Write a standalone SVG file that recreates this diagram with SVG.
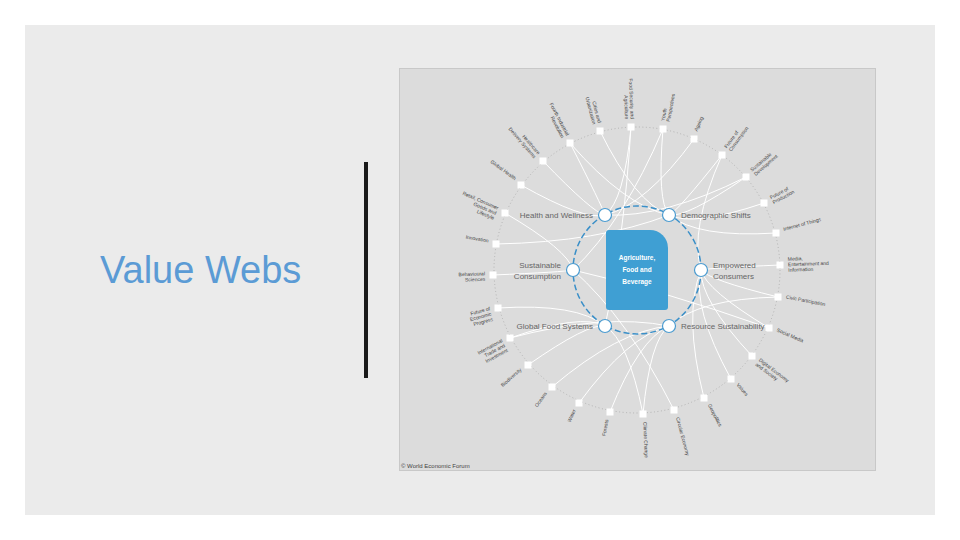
<svg xmlns="http://www.w3.org/2000/svg" width="960" height="540" viewBox="0 0 960 540">
<style>
.lbl{font-family:"Liberation Sans",Arial,sans-serif;font-size:5px;fill:#444}
.hub{font-family:"Liberation Sans",Arial,sans-serif;font-size:8px;fill:#666}
.sq{fill:#fff}
.hc{fill:#fff;stroke:#4a9bd0;stroke-width:1.2}
#connectors path{fill:none;stroke:#fff;stroke-width:1}
</style>
<rect width="960" height="540" fill="#fff"/>
<rect x="25" y="25" width="910" height="490" fill="#ebebeb"/>
<text x="100" y="283" font-family="Liberation Sans,Arial,sans-serif" font-size="38" fill="#5b9bd5" font-weight="300">Value Webs</text>
<rect x="364" y="162" width="4" height="216" fill="#1a1a1a"/>
<rect x="399.5" y="68.5" width="476" height="402" fill="#dcdcdc" stroke="#c8c8c8"/>
<circle cx="637" cy="270" r="143" fill="none" stroke="#a8a8a8" stroke-width="0.8" stroke-dasharray="1 2.5"/>
<g id="connectors">
<path d="M605,215 Q624,201 631,127"/><path d="M605,326 Q624,240 631,127"/>
<path d="M669,215 Q635,202 600,131"/><path d="M605,215 Q602,206 570,143"/>
<path d="M669,215 Q625,206 570,143"/><path d="M605,215 Q593,213 543,161"/>
<path d="M605,215 Q585,221 521,185"/><path d="M573,270 Q568,250 505,213"/>
<path d="M669,215 Q599,242 496,244"/><path d="M573,270 Q564,272 493,275"/>
<path d="M605,326 Q577,303 498,308"/><path d="M605,326 Q581,313 510,338"/>
<path d="M605,326 Q588,323 528,365"/><path d="M669,326 Q618,331 552,387"/>
<path d="M669,326 Q628,336 579,403"/><path d="M669,326 Q639,339 610,412"/>
<path d="M605,326 Q628,340 643,414"/><path d="M669,326 Q650,340 643,414"/>
<path d="M573,270 Q628,319 674,410"/><path d="M701,270 Q683,315 704,398"/>
<path d="M701,270 Q692,308 731,379"/><path d="M701,270 Q700,300 752,356"/>
<path d="M701,270 Q706,290 769,328"/><path d="M573,270 Q661,290 769,328"/>
<path d="M701,270 Q709,280 778,297"/><path d="M701,270 Q709,268 780,265"/>
<path d="M669,215 Q697,238 776,233"/><path d="M669,215 Q693,227 764,203"/>
<path d="M669,215 Q686,218 746,177"/><path d="M605,215 Q664,218 746,177"/>
<path d="M669,215 Q678,211 722,155"/><path d="M701,270 Q689,230 722,155"/>
<path d="M605,215 Q646,205 694,139"/><path d="M669,215 Q657,201 663,129"/>
<path d="M573,270 Q624,221 663,129"/><path d="M669,326 Q604,313 510,338"/>
<path d="M669,326 Q698,299 778,297"/>
</g>
<circle cx="637" cy="270" r="64" fill="none" stroke="#3a8fc8" stroke-width="1.5" stroke-dasharray="6 3"/>
<g id="center">
<path d="M609,230 H650 A18,18 0 0 1 668,248 V307 A3,3 0 0 1 665,310 H609 A3,3 0 0 1 606,307 V233 A3,3 0 0 1 609,230 Z" fill="#3f9fd3"/>
<g font-family="Liberation Sans,Arial,sans-serif" font-size="6.5" font-weight="bold" fill="#fff" text-anchor="middle">
<text x="637" y="260">Agriculture,</text><text x="637" y="272">Food and</text><text x="637" y="284">Beverage</text></g>
</g>
<g id="hubs">
<g id="hw"><circle class="hc" cx="605" cy="215" r="6.5"/><text class="hub" x="593" y="218" text-anchor="end">Health and Wellness</text></g>
<g id="ds"><circle class="hc" cx="669" cy="215" r="6.5"/><text class="hub" x="681" y="218">Demographic Shifts</text></g>
<g id="sc"><circle class="hc" cx="573" cy="270" r="6.5"/><text class="hub" x="561" y="268" text-anchor="end">Sustainable</text><text class="hub" x="561" y="279" text-anchor="end">Consumption</text></g>
<g id="ec"><circle class="hc" cx="701" cy="270" r="6.5"/><text class="hub" x="713" y="268">Empowered</text><text class="hub" x="713" y="279">Consumers</text></g>
<g id="gf"><circle class="hc" cx="605" cy="326" r="6.5"/><text class="hub" x="593" y="329" text-anchor="end">Global Food Systems</text></g>
<g id="rs"><circle class="hc" cx="669" cy="326" r="6.5"/><text class="hub" x="681" y="329">Resource Sustainability</text></g>
</g>
<g id="topics">
<g transform="translate(631,127)"><rect class="sq" x="-3.5" y="-3.5" width="7" height="7"/><text class="lbl" transform="rotate(87.6)" x="-8" text-anchor="end"><tspan>Food Security and</tspan><tspan x="-8" dy="5.5">Agriculture</tspan></text></g>
<g transform="translate(600,131)"><rect class="sq" x="-3.5" y="-3.5" width="7" height="7"/><text class="lbl" transform="rotate(75.1)" x="-8" text-anchor="end"><tspan>Cities and</tspan><tspan x="-8" dy="5.5">Urbanization</tspan></text></g>
<g transform="translate(570,143)"><rect class="sq" x="-3.5" y="-3.5" width="7" height="7"/><text class="lbl" transform="rotate(62.2)" x="-8" text-anchor="end"><tspan>Fourth Industrial</tspan><tspan x="-8" dy="5.5">Revolution</tspan></text></g>
<g transform="translate(543,161)"><rect class="sq" x="-3.5" y="-3.5" width="7" height="7"/><text class="lbl" transform="rotate(49.2)" x="-8" text-anchor="end"><tspan>Healthcare</tspan><tspan x="-8" dy="5.5">Delivery Systems</tspan></text></g>
<g transform="translate(521,185)"><rect class="sq" x="-3.5" y="-3.5" width="7" height="7"/><text class="lbl" transform="rotate(36.2)" x="-8" text-anchor="end">Global Health</text></g>
<g transform="translate(505,213)"><rect class="sq" x="-3.5" y="-3.5" width="7" height="7"/><text class="lbl" transform="rotate(23.4)" x="-8" text-anchor="end"><tspan>Retail, Consumer</tspan><tspan x="-8" dy="5.5">Goods and</tspan><tspan x="-8" dy="5.5">Lifestyle</tspan></text></g>
<g transform="translate(496,244)"><rect class="sq" x="-3.5" y="-3.5" width="7" height="7"/><text class="lbl" transform="rotate(10.4)" x="-8" text-anchor="end">Innovation</text></g>
<g transform="translate(493,275)"><rect class="sq" x="-3.5" y="-3.5" width="7" height="7"/><text class="lbl" transform="rotate(-2)" x="-8" text-anchor="end"><tspan>Behavioural</tspan><tspan x="-8" dy="5.5">Sciences</tspan></text></g>
<g transform="translate(498,308)"><rect class="sq" x="-3.5" y="-3.5" width="7" height="7"/><text class="lbl" transform="rotate(-15.3)" x="-8" text-anchor="end"><tspan>Future of</tspan><tspan x="-8" dy="5.5">Economic</tspan><tspan x="-8" dy="5.5">Progress</tspan></text></g>
<g transform="translate(510,338)"><rect class="sq" x="-3.5" y="-3.5" width="7" height="7"/><text class="lbl" transform="rotate(-28.2)" x="-8" text-anchor="end"><tspan>International</tspan><tspan x="-8" dy="5.5">Trade and</tspan><tspan x="-8" dy="5.5">Investment</tspan></text></g>
<g transform="translate(528,365)"><rect class="sq" x="-3.5" y="-3.5" width="7" height="7"/><text class="lbl" transform="rotate(-41.1)" x="-8" text-anchor="end">Biodiversity</text></g>
<g transform="translate(552,387)"><rect class="sq" x="-3.5" y="-3.5" width="7" height="7"/><text class="lbl" transform="rotate(-54)" x="-8" text-anchor="end">Oceans</text></g>
<g transform="translate(579,403)"><rect class="sq" x="-3.5" y="-3.5" width="7" height="7"/><text class="lbl" transform="rotate(-66.4)" x="-8" text-anchor="end">Water</text></g>
<g transform="translate(610,412)"><rect class="sq" x="-3.5" y="-3.5" width="7" height="7"/><text class="lbl" transform="rotate(-79.2)" x="-8" text-anchor="end">Forests</text></g>
<g transform="translate(643,414)"><rect class="sq" x="-3.5" y="-3.5" width="7" height="7"/><text class="lbl" transform="rotate(87.6)" x="8">Climate Change</text></g>
<g transform="translate(674,410)"><rect class="sq" x="-3.5" y="-3.5" width="7" height="7"/><text class="lbl" transform="rotate(75.2)" x="8">Circular Economy</text></g>
<g transform="translate(704,398)"><rect class="sq" x="-3.5" y="-3.5" width="7" height="7"/><text class="lbl" transform="rotate(62.4)" x="8">Geopolitics</text></g>
<g transform="translate(731,379)"><rect class="sq" x="-3.5" y="-3.5" width="7" height="7"/><text class="lbl" transform="rotate(49.2)" x="8">Values</text></g>
<g transform="translate(752,356)"><rect class="sq" x="-3.5" y="-3.5" width="7" height="7"/><text class="lbl" transform="rotate(36.8)" x="8"><tspan>Digital Economy</tspan><tspan x="8" dy="5.5">and Society</tspan></text></g>
<g transform="translate(769,328)"><rect class="sq" x="-3.5" y="-3.5" width="7" height="7"/><text class="lbl" transform="rotate(23.7)" x="8">Social Media</text></g>
<g transform="translate(778,297)"><rect class="sq" x="-3.5" y="-3.5" width="7" height="7"/><text class="lbl" transform="rotate(10.8)" x="8">Civic Participation</text></g>
<g transform="translate(780,265)"><rect class="sq" x="-3.5" y="-3.5" width="7" height="7"/><text class="lbl" transform="rotate(-2)" x="8" y="-4"><tspan>Media,</tspan><tspan x="8" dy="5.5">Entertainment and</tspan><tspan x="8" dy="5.5">Information</tspan></text></g>
<g transform="translate(776,233)"><rect class="sq" x="-3.5" y="-3.5" width="7" height="7"/><text class="lbl" transform="rotate(-14.9)" x="8">Internet of Things</text></g>
<g transform="translate(764,203)"><rect class="sq" x="-3.5" y="-3.5" width="7" height="7"/><text class="lbl" transform="rotate(-27.8)" x="8"><tspan>Future of</tspan><tspan x="8" dy="5.5">Production</tspan></text></g>
<g transform="translate(746,177)"><rect class="sq" x="-3.5" y="-3.5" width="7" height="7"/><text class="lbl" transform="rotate(-40.5)" x="8"><tspan>Sustainable</tspan><tspan x="8" dy="5.5">Development</tspan></text></g>
<g transform="translate(722,155)"><rect class="sq" x="-3.5" y="-3.5" width="7" height="7"/><text class="lbl" transform="rotate(-53.5)" x="8"><tspan>Future of</tspan><tspan x="8" dy="5.5">Consumption</tspan></text></g>
<g transform="translate(694,139)"><rect class="sq" x="-3.5" y="-3.5" width="7" height="7"/><text class="lbl" transform="rotate(-66.5)" x="8">Ageing</text></g>
<g transform="translate(663,129)"><rect class="sq" x="-3.5" y="-3.5" width="7" height="7"/><text class="lbl" transform="rotate(-79.6)" x="8"><tspan>Youth</tspan><tspan x="8" dy="5.5">Perspectives</tspan></text></g>
</g>
<text x="401" y="468" font-family="Liberation Sans,Arial,sans-serif" font-size="6" fill="#444">© World Economic Forum</text>
</svg>
